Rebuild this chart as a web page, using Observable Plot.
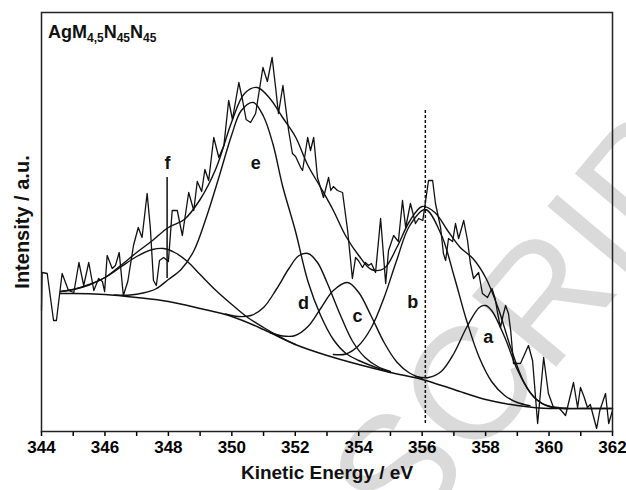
<!DOCTYPE html>
<html><head><meta charset="utf-8">
<script src="https://cdn.jsdelivr.net/npm/d3@7"></script>
<script src="https://cdn.jsdelivr.net/npm/@observablehq/plot@0.6"></script>
<style>body{margin:0;background:#fff;font-family:"Liberation Sans",Arial,sans-serif}</style>
</head><body>
<div id="wrap" style="position:relative;width:626px;height:490px;overflow:hidden">
<svg id="wm" width="626" height="490" style="position:absolute;left:0;top:0"><text transform="translate(405,547) rotate(-50)" font-family="Liberation Sans, Arial, sans-serif" font-size="160" fill="#dadada">SCRIPT</text></svg>
<div id="chart" style="position:absolute;left:0;top:0"></div>
</div>
<script>
// x = kinetic energy (eV), y = intensity (arbitrary units)
const majorTicks = [344, 346, 348, 350, 352, 354, 356, 358, 360, 362];
const minorTicks = [345, 347, 349, 351, 353, 355, 357, 359, 361];
const markerEnergy = 356.1;

const background = [[344.6,138],[345,138],[346,137],[347,134],[348,130],[349,123],[350,115],[351,102],[352,87],[353,76],[354,67],[355,59],[356,52],[357,42],[358,32],[359,26],[360,23],[361,23],[362,23]];

const envelope = [[344.6,140],[345,142],[345.5,147],[346,154],[346.5,166],[347,179],[347.5,191],[348,204],[348.5,212],[349,232],[349.5,263],[350,310],[350.4,338],[350.8,344],[351.2,333],[351.6,314],[352,295],[352.4,266],[352.8,244],[353.2,221],[353.6,195],[354,176],[354.4,162],[354.8,163],[355.2,184],[355.6,210],[356,225],[356.4,219],[356.8,201],[357.2,184],[357.6,173],[358,154],[358.4,123],[358.8,83],[359.2,50],[359.6,32],[360,25],[360.5,23],[361,23],[362,23]];

const peakA = [[355.8,55],[356.2,54],[356.6,60],[357,78],[357.4,104],[357.8,124],[358,126],[358.2,120.5],[358.6,94.5],[359,62],[359.4,39],[359.8,27.6],[360.2,24],[360.6,23]];
const peakB = [[353.2,77],[353.6,77.5],[354,86],[354.4,104],[354.8,134],[355.2,171.5],[355.6,205.5],[356.1,222],[356.6,197],[357,156],[357.4,111],[357.8,74],[358.2,49.5],[358.6,36],[359,29],[359.4,25.8]];
const peakC = [[351.2,99],[351.6,95.5],[352,96],[352.4,105],[352.8,123],[353.2,141],[353.65,149],[354,139],[354.4,115],[354.8,89],[355.2,69.5],[355.6,58.5],[356,53]];
const peakD = [[349.8,117.5],[350.2,115],[350.6,116],[351,124],[351.4,142],[351.8,163],[352.1,175.5],[352.4,178],[352.7,169],[353,149],[353.4,118],[353.8,90.5],[354.2,74],[354.6,65],[355,60]];
const peakE = [[346.3,136.5],[346.8,136.5],[347.2,138.5],[347.6,142.5],[348,152],[348.4,162],[348.8,180.5],[349.2,214.5],[349.6,255],[350,297],[350.3,321],[350.68,329],[351,315],[351.3,287],[351.6,245.5],[352,201],[352.4,150],[352.8,116],[353.2,92],[353.6,78],[354,71],[354.5,64.5],[355,59]];
const peakF = [[344.6,140],[345,142],[345.5,146.5],[346,154],[346.5,164.5],[347,175],[347.5,182],[347.85,183],[348.2,179],[348.6,170],[349,157],[349.5,141],[350,127],[350.5,114],[351,104],[351.5,95],[352,87]];

const measured = [[344.00,121],[344.02,159],[344.18,158],[344.38,111],[344.47,111],[344.65,158],[344.85,141],[345.02,139],[345.18,169],[345.33,146],[345.49,169],[345.65,141],[345.80,153],[345.92,150],[345.99,140],[346.07,176],[346.23,163],[346.33,166],[346.45,179],[346.58,136],[346.72,150],[346.90,186],[347.05,204],[347.17,194],[347.33,238],[347.43,204],[347.53,151],[347.62,146],[347.72,171],[347.85,174],[348.00,170],[348.12,221],[348.28,221],[348.44,196],[348.64,239],[348.80,221],[348.91,250],[349.05,240],[349.15,262],[349.27,251],[349.43,294],[349.59,274],[349.75,286],[349.90,331],[350.02,312],[350.22,349],[350.34,331],[350.45,312],[350.59,309],[350.75,318],[350.98,364],[351.12,350],[351.27,374],[351.38,344],[351.47,318],[351.61,346],[351.79,301],[351.91,278],[352.01,275],[352.17,264],[352.23,261],[352.39,294],[352.48,281],[352.58,294],[352.70,254],[352.89,234],[353.05,254],[353.12,241],[353.20,245],[353.33,241],[353.49,239],[353.65,201],[353.80,153],[353.90,174],[353.99,171],[354.12,164],[354.21,169],[354.31,166],[354.40,168],[354.53,159],[354.69,213],[354.85,148],[354.94,181],[355.10,196],[355.25,190],[355.38,231],[355.48,204],[355.63,228],[355.79,208],[355.89,213],[356.02,211],[356.20,251],[356.33,251],[356.42,228],[356.58,204],[356.67,178],[356.74,171],[356.83,193],[356.96,190],[357.05,208],[357.15,193],[357.31,211],[357.43,191],[357.52,168],[357.62,153],[357.78,159],[357.90,138],[358.06,134],[358.20,143],[358.30,133],[358.38,118],[358.47,104],[358.55,116],[358.63,126],[358.72,118],[358.79,101],[358.88,68],[359.10,68],[359.35,86],[359.48,71],[359.64,8],[359.83,74],[359.98,38],[360.14,24],[360.30,24],[360.52,16],[360.77,49],[360.90,24],[360.99,44],[361.10,35],[361.21,24],[361.30,27],[361.50,3],[361.60,21],[361.78,38],[361.88,8],[362.00,21]];

const peakLabels = [
  {x: 358.08, y: 94, t: "a"},
  {x: 355.70, y: 129, t: "b"},
  {x: 353.96, y: 115, t: "c"},
  {x: 352.26, y: 128, t: "d"},
  {x: 350.75, y: 268, t: "e"},
  {x: 347.97, y: 268, t: "f"}
];
const fMarker = [{x: 347.96, y1: 153, y2: 254}];

const FONT = "Liberation Sans, Arial, sans-serif";
const line = (data, curve, w) => Plot.line(data, {x: d => d[0], y: d => d[1], curve, stroke: "#111", strokeWidth: w});

const chart = Plot.plot({
  width: 626, height: 490,
  marginLeft: 41, marginRight: 14, marginTop: 12, marginBottom: 59,
  style: {background: "transparent", fontFamily: FONT},
  x: {domain: [344, 362]},
  y: {domain: [0, 419], axis: null},
  marks: [
    Plot.axisX(minorTicks, {tickSize: 5, strokeWidth: 1.5, tickFormat: () => "", label: null}),
    Plot.axisX(majorTicks, {tickSize: 5, strokeWidth: 1.5, tickPadding: 4, fontSize: 17, fontWeight: "bold", tickFormat: d => String(d), label: null}),
    line(background, "monotone-x", 1.5),
    line(peakA, "catmull-rom", 1.4),
    line(peakB, "catmull-rom", 1.4),
    line(peakC, "catmull-rom", 1.4),
    line(peakD, "catmull-rom", 1.4),
    line(peakE, "catmull-rom", 1.4),
    line(peakF, "catmull-rom", 1.4),
    line(envelope, "catmull-rom", 1.4),
    line(measured, "linear", 1.3),
    Plot.ruleX([markerEnergy], {y1: 8, y2: 321, stroke: "#111", strokeWidth: 1.5, strokeDasharray: "3,2"}),
    Plot.ruleX(fMarker, {x: "x", y1: "y1", y2: "y2", stroke: "#111", strokeWidth: 1.5}),
    Plot.text(peakLabels, {x: "x", y: "y", text: "t", fontSize: 18, fontWeight: "bold", fill: "#111"}),
    Plot.text(["Kinetic Energy / eV"], {frameAnchor: "bottom", textAnchor: "middle", dy: 47, fontSize: 19, fontWeight: "bold", fill: "#111"}),
    Plot.text(["Intensity / a.u."], {frameAnchor: "left", textAnchor: "middle", dx: -19, rotate: -90, fontSize: 20, fontWeight: "bold", fill: "#111"}),
    Plot.frame({stroke: "#222", strokeWidth: 1.5})
  ]
});
document.getElementById("chart").appendChild(chart);

const title = d3.select(chart).append("text")
  .attr("x", 48).attr("y", 38).attr("text-anchor", "start")
  .attr("font-family", FONT).attr("font-weight", "bold").attr("font-size", 18).attr("fill", "#111");
const parts = [["AgM", false], ["4,5", true], ["N", false], ["45", true], ["N", false], ["45", true]];
parts.forEach(([s, sub], i) => {
  title.append("tspan").attr("font-size", sub ? 12 : 18).attr("dy", sub ? 4 : (i === 0 ? 0 : -4)).text(s);
});
</script>
</body></html>
